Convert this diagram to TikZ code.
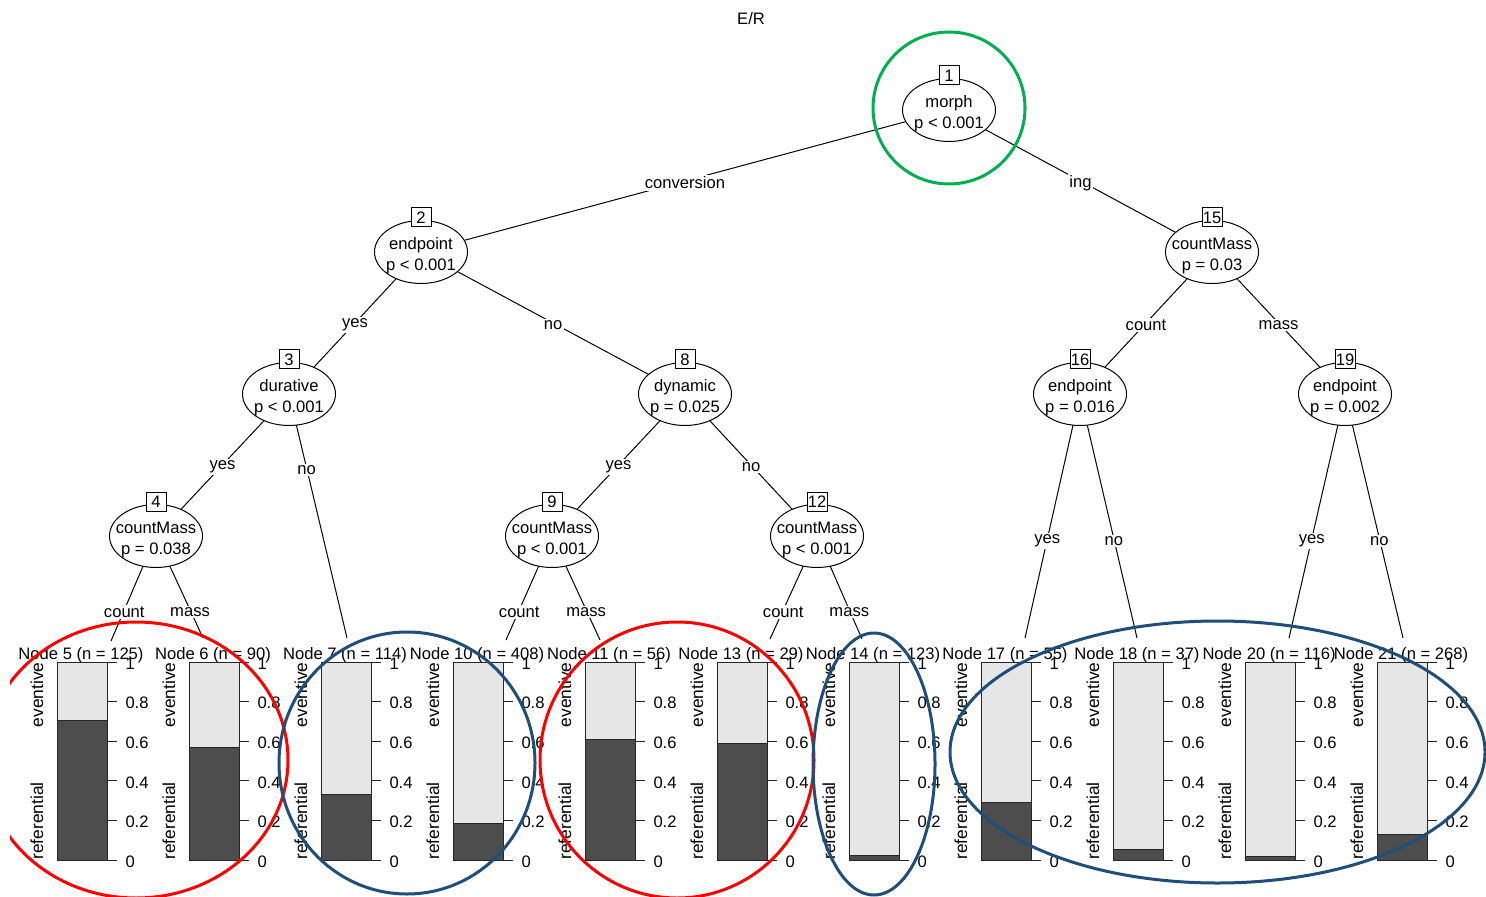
\documentclass[tikz,border=0pt]{standalone}
\usepackage{fontspec}
\setmainfont{Liberation Sans}
\usetikzlibrary{shapes.geometric}
\definecolor{ovgreen}{HTML}{00B050}
\definecolor{ovred}{HTML}{FF0000}
\definecolor{ovblue}{HTML}{1F4E79}
\definecolor{darkbar}{HTML}{4D4D4D}
\definecolor{lightbar}{HTML}{E6E6E6}
\newcommand{\pf}{\fontsize{8.3}{10.5}\selectfont}
\newcommand{\sidef}{\fontsize{8.7}{10.5}\selectfont}
\tikzset{
  every node/.style={font=\pf},
  edge/.style={draw=black, line width=0.5pt},
  elab/.style={fill=white, inner sep=0.8pt, yshift=-1pt},
  splitshape/.style={ellipse, draw, fill=white, line width=0.5pt, minimum width=46.5pt, minimum height=31.5pt, inner sep=0pt},
  splitlab/.style={inner sep=0pt, align=center},
  numbox/.style={draw, fill=white, line width=0.5pt, minimum width=10pt, minimum height=9.5pt, inner sep=0pt},
  ttl/.style={inner sep=0pt},
  ticklab/.style={anchor=west, inner sep=0pt, yshift=-0.75pt},
  barline/.style={draw=black!85, line width=0.5pt},
  sidelab/.style={rotate=90, inner sep=0pt, font=\sidef},
  ring/.style={line width=1.5pt},
}
\newcommand{\tpanel}[4]{%
  \pgfmathsetmacro{\tpR}{#2+50}%
  \pgfmathsetmacro{\tpD}{860-198*#4}%
  \pgfmathsetmacro{\tpC}{#2+24}%
  \pgfmathsetmacro{\tpS}{#2-20}%
  \node[ttl] (#1) at (\tpC,655) {#3};
  \fill[lightbar] (#2,662) rectangle (\tpR,\tpD);
  \fill[darkbar] (#2,\tpD) rectangle (\tpR,860);
  \draw[barline] (#2,\tpD) -- (\tpR,\tpD);
  \draw[barline] (#2,662) rectangle (\tpR,860);
  \foreach \tv in {0,0.2,0.4,0.6,0.8,1}{
    \pgfmathsetmacro{\tpy}{860-198*\tv}
    \draw[barline] (\tpR,\tpy) -- ++(10,0) node[ticklab, xshift=4pt]{\tv};
  }
  \node[sidelab, anchor=east] (#1ev) at (\tpS,662) {eventive};
  \node[sidelab, anchor=west] (#1rf) at (\tpS,860) {referential};
}
\begin{document}
\begin{tikzpicture}[x=0.5pt, y=-0.5pt]
\useasboundingbox (0,0) rectangle (1486,897);
\fill[white] (0,0) rectangle (1486,897);

\node (title) at (751,19) {E/R};

% split centres
\coordinate (c1) at (949,110);
\coordinate (c2) at (421,252);
\coordinate (c15) at (1212,252);
\coordinate (c3) at (289,394);
\coordinate (c8) at (685,394);
\coordinate (c16) at (1080,394);
\coordinate (c19) at (1345,394);
\coordinate (c4) at (156,536);
\coordinate (c9) at (552,536);
\coordinate (c12) at (817,536);
% terminal attachment points
\coordinate (e5) at (111,641);
\coordinate (e6) at (203,638);
\coordinate (e7) at (347,638);
\coordinate (e10) at (506,640);
\coordinate (e11) at (600,640);
\coordinate (e13) at (770,639);
\coordinate (e14) at (862,639);
\coordinate (e17) at (1025,638);
\coordinate (e18) at (1137,638);
\coordinate (e20) at (1289,638);
\coordinate (e21) at (1403,638);

% edges
\draw[edge] (c1) -- node[elab]{conversion} (c2);
\draw[edge] (c1) -- node[elab]{ing} (c15);
\draw[edge] (c2) -- node[elab]{yes} (c3);
\draw[edge] (c2) -- node[elab]{no} (c8);
\draw[edge] (c15) -- node[elab]{count} (c16);
\draw[edge] (c15) -- node[elab]{mass} (c19);
\draw[edge] (c3) -- node[elab]{yes} (c4);
\draw[edge] (c3) -- node[elab, pos=0.303]{no} (e7);
\draw[edge] (c8) -- node[elab]{yes} (c9);
\draw[edge] (c8) -- node[elab]{no} (c12);
\draw[edge] (c4) -- node[elab, pos=0.705]{count} (e5);
\draw[edge] (c4) -- node[elab, pos=0.725]{mass} (e6);
\draw[edge] (c9) -- node[elab, pos=0.712]{count} (e10);
\draw[edge] (c9) -- node[elab, pos=0.712]{mass} (e11);
\draw[edge] (c12) -- node[elab, pos=0.718]{count} (e13);
\draw[edge] (c12) -- node[elab, pos=0.718]{mass} (e14);
\draw[edge] (c16) -- node[elab, pos=0.594]{yes} (e17);
\draw[edge] (c16) -- node[elab, pos=0.594]{no} (e18);
\draw[edge] (c19) -- node[elab, pos=0.594]{yes} (e20);
\draw[edge] (c19) -- node[elab, pos=0.594]{no} (e21);

% split nodes
\foreach \id/\var/\pv in {1/morph/{p < 0.001}, 2/endpoint/{p < 0.001}, 15/countMass/{p = 0.03},
  3/durative/{p < 0.001}, 8/dynamic/{p = 0.025}, 16/endpoint/{p = 0.016}, 19/endpoint/{p = 0.002},
  4/countMass/{p = 0.038}, 9/countMass/{p < 0.001}, 12/countMass/{p < 0.001}}{
  \node[splitshape] (n\id) at (c\id) {};
  \node[splitlab] (l\id) at ([yshift=-2pt]c\id) {\var\\\pv};
  \node[numbox] (b\id) at ([yshift=17.25pt]c\id) {\id};
}

% terminal panels
\tpanel{t5}{57}{Node 5 (n = 125)}{0.704}
\tpanel{t6}{189}{Node 6 (n = 90)}{0.567}
\tpanel{t7}{321}{Node 7 (n = 114)}{0.333}
\tpanel{t10}{453}{Node 10 (n = 408)}{0.186}
\tpanel{t11}{585}{Node 11 (n = 56)}{0.607}
\tpanel{t13}{717}{Node 13 (n = 29)}{0.586}
\tpanel{t14}{849}{Node 14 (n = 123)}{0.024}
\tpanel{t17}{981}{Node 17 (n = 55)}{0.291}
\tpanel{t18}{1113}{Node 18 (n = 37)}{0.054}
\tpanel{t20}{1245}{Node 20 (n = 116)}{0.017}
\tpanel{t21}{1377}{Node 21 (n = 268)}{0.131}

% overlay rings
\begin{scope}
\clip (10,0) rectangle (1486,897);
\draw[ring, ovgreen] (949,108) circle [radius=38pt];
\draw[ring, ovred] (136,760) ellipse [x radius=76pt, y radius=69pt];
\draw[ring, ovred] (677,760) ellipse [x radius=68.5pt, y radius=69pt];
\draw[ring, ovblue] (407,763) ellipse [x radius=64pt, y radius=65.5pt];
\draw[ring, ovblue] (874,764) ellipse [x radius=30.5pt, y radius=65.5pt];
\draw[ring, ovblue] (1217.5,752) ellipse [x radius=133.75pt, y radius=65.5pt];
\end{scope}
\end{tikzpicture}
\end{document}
